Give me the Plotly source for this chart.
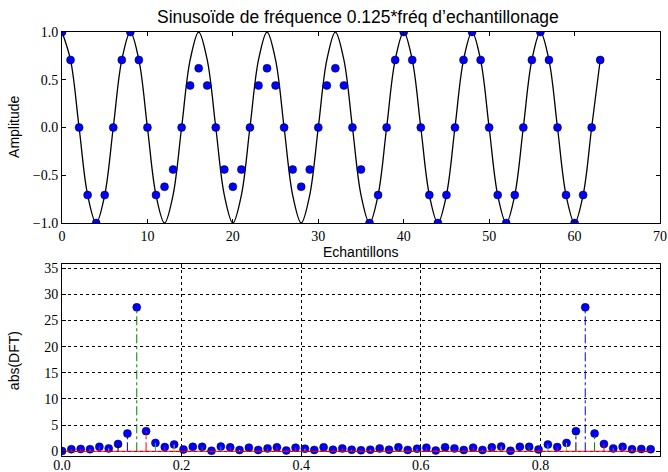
import plotly.graph_objects as go

# ---- data ----
n_samples = list(range(64))
samples = [1.0, 0.707, 0.0, -0.707, -1.0, -0.707, 0.0, 0.707,
           1.0, 0.707, 0.0, -0.707, -0.62, -0.44, 0.0, 0.44,
           0.62, 0.44, 0.0, -0.44, -0.62, -0.44, 0.0, 0.44,
           0.62, 0.44, 0.0, -0.44, -0.62, -0.44, 0.0, 0.44,
           0.62, 0.44, 0.0, -0.44, -1.0, -0.707, 0.0, 0.707,
           1.0, 0.707, 0.0, -0.707, -1.0, -0.707, 0.0, 0.707,
           1.0, 0.707, 0.0, -0.707, -1.0, -0.707, 0.0, 0.707,
           1.0, 0.707, 0.0, -0.707, -1.0, -0.707, 0.0, 0.707]
# underlying sinusoid (reference curve) read at each sample index
curve = [1.0, 0.707, 0.0, -0.707, -1.0, -0.707, 0.0, 0.707] * 8

dft_mag = [0.05, 0.4, 0.45, 0.4, 0.85, 0.55, 1.4, 3.4,
           27.5, 3.85, 1.6, 0.8, 1.3, 0.35, 0.85, 0.85,
           0.1, 0.9, 0.75, 0.25, 0.7, 0.25, 0.55, 0.75,
           0.15, 0.7, 0.5, 0.25, 0.75, 0.3, 0.55, 0.3,
           0.2, 0.3, 0.55, 0.3, 0.75, 0.25, 0.5, 0.7,
           0.15, 0.75, 0.55, 0.25, 0.7, 0.25, 0.75, 0.9,
           0.1, 0.85, 0.85, 0.35, 1.3, 0.8, 1.6, 3.85,
           27.5, 3.4, 1.4, 0.55, 0.85, 0.4, 0.45, 0.4]
freq = [k / 64 for k in range(64)]

stem_colors = ["#0000ff", "#008000", "#ff0000", "#00bfbf", "#bf00bf", "#bfbf00", "#000000"]

title_text = "Sinusoïde de fréquence 0.125*fréq d’echantillonage"
x1_ticks = [0, 10, 20, 30, 40, 50, 60, 70]
y1_ticks = [-1.0, -0.5, 0.0, 0.5, 1.0]
x2_ticks = [0.0, 0.2, 0.4, 0.6, 0.8, 1.0]
y2_ticks = [0, 5, 10, 15, 20, 25, 30, 35]

# ---- figure ----
fig = go.Figure()

fig.add_trace(go.Scatter(x=n_samples, y=curve, mode="lines",
                         line=dict(color="black", width=1.3, shape="spline", smoothing=1.0),
                         xaxis="x", yaxis="y", showlegend=False, hoverinfo="skip"))
fig.add_trace(go.Scatter(x=n_samples, y=samples, mode="markers",
                         marker=dict(color="#0000ff", size=8, line=dict(color="black", width=0.5)),
                         xaxis="x", yaxis="y", showlegend=False))

# stem plot: markers, then stems, then baseline
fig.add_trace(go.Scatter(x=freq, y=dft_mag, mode="markers",
                         marker=dict(color="#0000ff", size=8, line=dict(color="black", width=0.5)),
                         xaxis="x2", yaxis="y2", showlegend=False))
for ci, col in enumerate(stem_colors):
    xs, ys = [], []
    for k in range(len(freq)):
        if k % 7 == ci:
            xs += [freq[k], freq[k], None]
            ys += [0, dft_mag[k], None]
    fig.add_trace(go.Scatter(x=xs, y=ys, mode="lines",
                             line=dict(color=col, width=1, dash="dashdot"),
                             xaxis="x2", yaxis="y2", showlegend=False, hoverinfo="skip"))
fig.add_trace(go.Scatter(x=[freq[0], freq[-1]], y=[0, 0], mode="lines",
                         line=dict(color="#ff0000", width=1),
                         xaxis="x2", yaxis="y2", showlegend=False, hoverinfo="skip"))

tickfont = dict(family="Liberation Serif, DejaVu Serif, serif", size=14, color="black")
common = dict(showline=True, linecolor="black", linewidth=1, mirror="ticks",
              ticks="inside", ticklen=4, tickcolor="black", tickfont=tickfont,
              zeroline=False, automargin=False)

fig.update_layout(
    width=668, height=472, autosize=False,
    margin=dict(l=62, r=8, t=32, b=16),
    paper_bgcolor="white", plot_bgcolor="white",
    xaxis=dict(domain=[0, 1], anchor="y", range=[0, 70], tickvals=x1_ticks,
               ticktext=[str(v) for v in x1_ticks], showgrid=False, **common),
    yaxis=dict(domain=[0.5495, 1], anchor="x", range=[-1, 1], tickvals=y1_ticks,
               ticktext=[("−" if v < 0 else "") + f"{abs(v):.1f}" for v in y1_ticks],
               showgrid=False, **common),
    xaxis2=dict(domain=[0, 1], anchor="y2", range=[0, 1], tickvals=x2_ticks,
                ticktext=[f"{v:.1f}" for v in x2_ticks], showgrid=True, ticklabelstandoff=-4,
                gridcolor="black", gridwidth=1, griddash="dot", **common),
    yaxis2=dict(domain=[0, 0.453], anchor="x2", range=[-0.9, 35.8], tickvals=y2_ticks,
                ticktext=[str(v) for v in y2_ticks], showgrid=True,
                gridcolor="black", gridwidth=1, griddash="dot", **common),
    annotations=[
        dict(text=title_text, xref="paper", yref="paper", x=0.495, y=1.035,
             showarrow=False, xanchor="center", yanchor="middle",
             font=dict(family="Liberation Sans, Arial, sans-serif", size=17.5, color="black")),
        dict(text="Echantillons", xref="paper", yref="paper", x=0.5, y=0.481,
             showarrow=False, xanchor="center", yanchor="middle",
             font=dict(family="Liberation Sans, Arial, sans-serif", size=14, color="black")),
        dict(text="Amplitude", xref="paper", yref="paper", x=-0.0803, y=0.776,
             showarrow=False, xanchor="center", yanchor="middle", textangle=-90,
             font=dict(family="Liberation Sans, Arial, sans-serif", size=14, color="black")),
        dict(text="abs(DFT)", xref="paper", yref="paper", x=-0.0803, y=0.226,
             showarrow=False, xanchor="center", yanchor="middle", textangle=-90,
             font=dict(family="Liberation Sans, Arial, sans-serif", size=14, color="black")),
    ],
)

fig.write_html("out.html", config={"displayModeBar": False},
               post_script="document.body.style.margin='0';document.body.style.overflow='hidden';")
